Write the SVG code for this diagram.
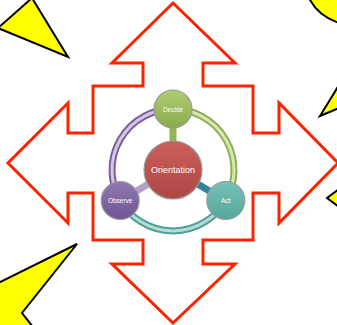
<svg xmlns="http://www.w3.org/2000/svg" width="337" height="325" viewBox="0 0 337 325">
  <style>
    .burst { fill: #ffff00; stroke: #000; stroke-width: 2; stroke-linejoin: miter; }
    .quad { fill: none; stroke: #ff2200; stroke-width: 3; stroke-linejoin: miter; }
    .node circle { stroke: #9a9a9a; stroke-width: 1.2; }
    .label { font-family: "Liberation Sans", Arial, sans-serif; fill: #fff; text-anchor: middle; dominant-baseline: central; }
    .ring-outer { fill: none; stroke-width: 7; }
    .ring-inner { fill: none; stroke-width: 3; }
    .bar { stroke-width: 7; }
  </style>
  <defs>
    <linearGradient id="gRed" x1="0" y1="0" x2="0" y2="1">
      <stop offset="0" stop-color="#cc5f5b"/>
      <stop offset="1" stop-color="#ad4744"/>
    </linearGradient>
    <linearGradient id="gGreen" x1="0" y1="0" x2="0" y2="1">
      <stop offset="0" stop-color="#b0cc72"/>
      <stop offset="1" stop-color="#8aab4c"/>
    </linearGradient>
    <linearGradient id="gPurple" x1="0" y1="0" x2="0" y2="1">
      <stop offset="0" stop-color="#9179b3"/>
      <stop offset="1" stop-color="#6f5592"/>
    </linearGradient>
    <linearGradient id="gTeal" x1="0" y1="0" x2="0" y2="1">
      <stop offset="0" stop-color="#76c2b8"/>
      <stop offset="1" stop-color="#55a69b"/>
    </linearGradient>
  </defs>

  <!-- yellow burst fragments at the edges -->
  <polygon class="burst" points="32,-2 68,57 -2,28"/>
  <path class="burst" d="M309,-2 Q318,16 339,23 L339,-2 Z"/>
  <polygon class="burst" points="339,85 320,116 339,108"/>
  <polygon class="burst" points="339,189 327,198 339,207"/>
  <polygon class="burst" points="-2,283 77,244 22,313 33,327 -2,327"/>

  <!-- four-way arrow outline -->
  <path class="quad" d="M173,3 L235,63 L203,63 L203,86 L253,86 L253,133 L279,133 L279,103 L338,163 L279,223 L279,193 L253,193 L253,240 L203,240 L203,264 L235,264 L173,323 L112,264 L143,264 L143,240 L93,240 L93,193 L68,193 L68,223 L8,163 L68,103 L68,133 L93,133 L93,86 L143,86 L143,63 L112,63 Z"/>

  <!-- cycle ring and spokes -->
  <g id="connectors">
    <path class="ring-outer" stroke="#8fae52" d="M173,109 A61,61 0 0 1 225.8,200.5"/>
    <path class="ring-inner" stroke="#d6e6b4" d="M173,109 A61,61 0 0 1 225.8,200.5"/>
    <path class="ring-outer" stroke="#4f9f95" d="M225.8,200.5 A61,61 0 0 1 120.2,200.5"/>
    <path class="ring-inner" stroke="#b5ddd7" d="M225.8,200.5 A61,61 0 0 1 120.2,200.5"/>
    <path class="ring-outer" stroke="#7a5f9c" d="M120.2,200.5 A61,61 0 0 1 173,109"/>
    <path class="ring-inner" stroke="#d2c7e3" d="M120.2,200.5 A61,61 0 0 1 173,109"/>
    <line class="bar" stroke="#93b552" x1="173" y1="127" x2="173" y2="142"/>
    <line class="bar" stroke="#31849b" x1="196" y1="183" x2="211" y2="192"/>
    <line class="bar" stroke="#b3a2c7" x1="150" y1="183" x2="135" y2="192"/>
  </g>

  <g id="orientation" class="node">
    <circle cx="173" cy="170" r="29" fill="url(#gRed)"/>
    <text class="label" x="173" y="170" font-size="9">Orientation</text>
  </g>
  <g id="decide" class="node">
    <circle cx="173" cy="109" r="19" fill="url(#gGreen)"/>
    <text class="label" x="173" y="109" font-size="6.5">Decide</text>
  </g>
  <g id="act" class="node">
    <circle cx="225.8" cy="200.5" r="19" fill="url(#gTeal)"/>
    <text class="label" x="225.8" y="200.5" font-size="6.5">Act</text>
  </g>
  <g id="observe" class="node">
    <circle cx="120.2" cy="200.5" r="19" fill="url(#gPurple)"/>
    <text class="label" x="120.2" y="200.5" font-size="6.5">Observe</text>
  </g>
</svg>
